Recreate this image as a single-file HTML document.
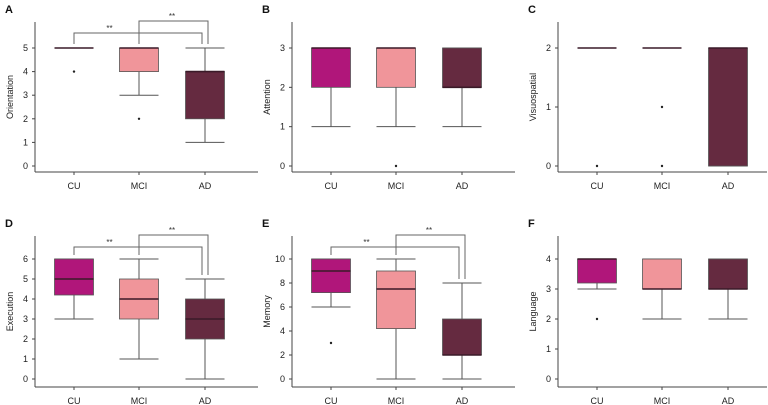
<!DOCTYPE html>
<html><head><meta charset="utf-8"><style>
body{margin:0;background:#fff;}
svg{display:block;font-family:"Liberation Sans",sans-serif;}
</style></head><body>
<svg id="c" width="768" height="405" viewBox="0 0 768 405"></svg>
<script>
const categories=["CU","MCI","AD"];
const colors=["#b0167a","#f0959a","#652a40"];
const panelLetters=["A","B","C","D","E","F"];
const yTitles=["Orientation","Attention","Visuospatial","Execution","Memory","Language"];
const yMaxes=[5,3,2,6,10,4];
const yTicks=[[0,1,2,3,4,5],[0,1,2,3],[0,1,2],[0,1,2,3,4,5,6],[0,2,4,6,8,10],[0,1,2,3,4]];
// per panel: [q1,median,q3,whiskerLow,whiskerHigh] per category
const boxesA=[[5,5,5,5,5],[4,5,5,3,5],[2,4,4,1,5]];
const boxesB=[[2,3,3,1,3],[2,3,3,1,3],[2,2,3,1,3]];
const boxesC=[[2,2,2,2,2],[2,2,2,2,2],[0,2,2,0,2]];
const boxesD=[[4.2,5,6,3,6],[3,4,5,1,6],[2,3,4,0,5]];
const boxesE=[[7.2,9,10,6,10],[4.2,7.5,9,0,10],[2,2,5,0,8]];
const boxesF=[[3.2,4,4,3,4],[3,3,4,2,4],[3,3,4,2,4]];
const outliersA=[[4],[2],[]];
const outliersB=[[],[0],[]];
const outliersC=[[0],[1,0],[]];
const outliersD=[[],[],[]];
const outliersE=[[3],[],[]];
const outliersF=[[2],[],[]];
const sigPanels=[0,3,4];
const allBoxes=[boxesA,boxesB,boxesC,boxesD,boxesE,boxesF];
const allOut=[outliersA,outliersB,outliersC,outliersD,outliersE,outliersF];
const svg=document.getElementById('c');
const NS="http://www.w3.org/2000/svg";
function mk(t,a,p){const e=document.createElementNS(NS,t);for(const k in a)e.setAttribute(k,a[k]);(p||svg).appendChild(e);return e;}
for(let p=0;p<6;p++){
  const col=p%3,row=Math.floor(p/3);
  const ax=[35,292,558][col];
  const xEnd=[258,515,767][col];
  const yTop=row?259:48, yZero=row?379:166, baseY=row?387:172, axTop=row?236:22;
  const cx=[ax+39,ax+104,ax+170];
  const yS=v=>yZero-(v/yMaxes[p])*(yZero-yTop);
  const g=mk('g',{});
  
  
  const L=mk('text',{x:ax-30,y:row?227:13,'font-size':11,'font-weight':'bold',fill:'#111'},g);L.textContent=panelLetters[p];
  
  mk('line',{x1:ax,y1:axTop,x2:ax,y2:baseY,stroke:'#444','stroke-width':1},g);
  mk('line',{x1:ax,y1:baseY,x2:xEnd,y2:baseY,stroke:'#444','stroke-width':1},g);
  yTicks[p].forEach(v=>{const y=yS(v);mk('line',{x1:ax-3,y1:y,x2:ax,y2:y,stroke:'#444'},g);
    const t=mk('text',{x:ax-7,y:y+3,'font-size':9,'text-anchor':'end',fill:'#222'},g);t.textContent=v;
    });
  const yt=mk('text',{x:0,y:0,'font-size':9,'text-anchor':'middle',fill:'#222',transform:`translate(${ax-22},${(axTop+baseY)/2}) rotate(-90)`},g);
  yt.textContent=yTitles[p];
  categories.forEach((c,i)=>{
    const x=cx[i];mk('line',{x1:x,y1:baseY,x2:x,y2:baseY+3,stroke:'#444'},g);
    const t=mk('text',{x:x,y:baseY+17,'font-size':9,'text-anchor':'middle',fill:'#222'},g);t.textContent=c;
    
    const b=allBoxes[p][i];const w=39;
    const bg=mk('g',{},g);
    mk('line',{x1:x,y1:yS(b[3]),x2:x,y2:yS(b[0]),stroke:'#555'},bg);
    mk('line',{x1:x,y1:yS(b[2]),x2:x,y2:yS(b[4]),stroke:'#555'},bg);
    mk('line',{x1:x-w/2,y1:yS(b[3]),x2:x+w/2,y2:yS(b[3]),stroke:'#555'},bg);
    mk('line',{x1:x-w/2,y1:yS(b[4]),x2:x+w/2,y2:yS(b[4]),stroke:'#555'},bg);
    mk('rect',{x:x-w/2,y:yS(b[2]),width:w,height:Math.max(0,yS(b[0])-yS(b[2])),fill:colors[i],stroke:'#555','stroke-width':0.8},bg);
    mk('line',{x1:x-w/2,y1:yS(b[1]),x2:x+w/2,y2:yS(b[1]),stroke:'#3a1a28','stroke-width':1.6},bg);
    allOut[p][i].forEach(v=>{const d=mk('circle',{cx:x,cy:yS(v),r:1.2,fill:'#222'},bg);
      });
  });
  if(sigPanels.includes(p)){
    const y1=axTop+11,y2=axTop-1;
    const topA=yS(allBoxes[p][0][4])-4, topC=yS(allBoxes[p][2][4])-4;
    mk('path',{d:`M${cx[0]},${topA} V${y1} H${cx[2]-3} V${topC}`,fill:'none',stroke:'#666'},g);
    mk('path',{d:`M${cx[1]},${yS(allBoxes[p][1][4])-4} V${y2} H${cx[2]+3} V${topC}`,fill:'none',stroke:'#666'},g);
    const s1=mk('text',{x:(cx[0]+cx[1])/2+3,y:y1-2,'font-size':8,'text-anchor':'middle',fill:'#333'},g);s1.textContent='**';
    
    const s2=mk('text',{x:(cx[1]+cx[2])/2,y:y2-2,'font-size':8,'text-anchor':'middle',fill:'#333'},g);s2.textContent='**';
    
  }
}
</script>
</body></html>
